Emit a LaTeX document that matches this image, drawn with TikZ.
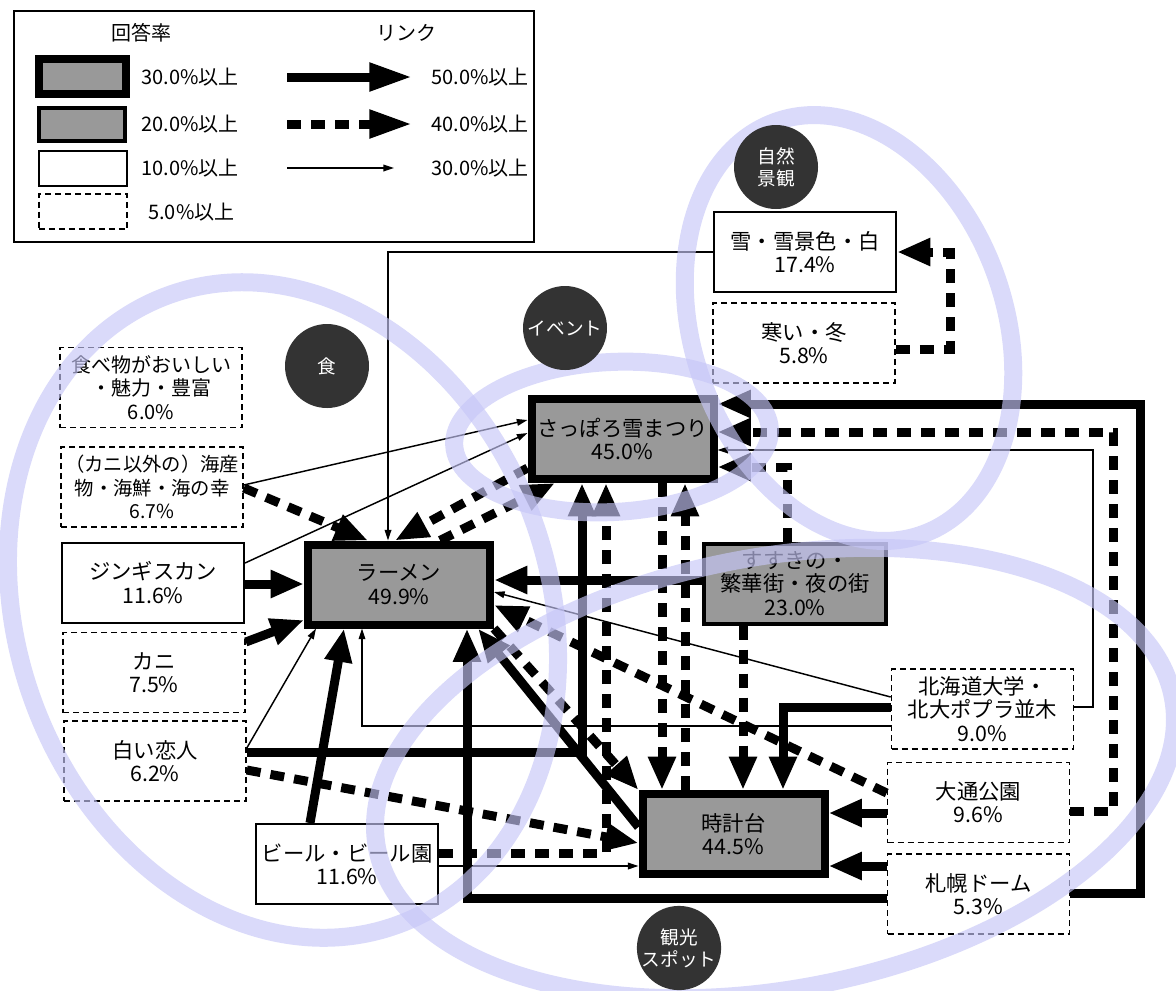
\documentclass[tikz,border=0pt]{standalone}
\usepackage{fontspec}
\setmainfont{Noto Sans CJK JP}
\usetikzlibrary{arrows.meta,calc}
\definecolor{boxgray}{RGB}{153,153,153}
\definecolor{circ}{RGB}{51,51,51}
\definecolor{lav}{RGB}{198,198,247}
\tikzset{
  lbl/.style={font=\fontsize{15}{17}\selectfont, align=center, inner sep=0pt},
  bx/.style={lbl, font=\fontsize{16}{17.5}\selectfont, rectangle, minimum width=136.5pt, minimum height=60pt, draw=black},
  bxA/.style={bx, line width=6pt, fill=boxgray},
  bxB/.style={bx, line width=3pt, fill=boxgray},
  bxC/.style={bx, line width=1.5pt, fill=white},
  bxD/.style={bx, line width=1.2pt, dash pattern=on 4.5pt off 3pt, fill=white},
  strong/.style={line width=6.75pt, -{Triangle[length=25pt,width=19.5pt]}},
  mid/.style={strong, dash pattern=on 10.5pt off 7.5pt},
  weak/.style={line width=1.1pt, -{Triangle[length=8pt,width=5pt]}},
  strongleg/.style={line width=6.75pt, -{Triangle[length=32pt,width=20pt]}},
  midleg/.style={strongleg, dash pattern=on 10.5pt off 7.5pt},
  grp/.style={circle, fill=circ, text=white, minimum size=63pt, inner sep=0pt,
    font=\fontsize{14}{16.5}\selectfont, align=center},
  ring/.style={draw=lav, draw opacity=0.65, line width=13.5pt},
}
\begin{document}
\begin{tikzpicture}[x=0.75pt,y=-0.75pt]
\useasboundingbox (0,0) rectangle (1176,990);

% ---------------- legend ----------------
\node[draw, line width=1.5pt, minimum width=390pt, minimum height=173.5pt, inner sep=0pt] (legend) at (273.5,126.5) {};
\node[lbl] (lgA) at (141,33) {回答率};
\node[lbl] (lgB) at (406,33) {リンク};
\node[bxA, minimum width=65.25pt, minimum height=26.25pt] (lbx1) at (82,76.5) {};
\node[bxB, minimum width=64.5pt, minimum height=24.75pt] (lbx2) at (82,124.5) {};
\node[bxC, minimum width=66pt, minimum height=26.25pt] (lbx3) at (83,168.5) {};
\node[bxD, minimum width=66.3pt, minimum height=26.55pt] (lbx4) at (83,211.5) {};
\node[lbl, anchor=west] (lt1) at (141,77) {30.0\%以上};
\node[lbl, anchor=west] (lt2) at (141,124) {20.0\%以上};
\node[lbl, anchor=west] (lt3) at (141,168) {10.0\%以上};
\node[lbl, anchor=west] (lt4) at (148,212) {5.0\%以上};
\coordinate (la1) at (287,77);  \coordinate (lb1) at (412,77);
\coordinate (la2) at (287,124); \coordinate (lb2) at (412,124);
\coordinate (la3) at (287,168); \coordinate (lb3) at (394,168);
\draw[strongleg] (la1) -- (lb1);
\draw[midleg] (la2) -- (lb2);
\draw[weak] (la3) -- (lb3);
\node[lbl, anchor=west] (lr1) at (431,77) {50.0\%以上};
\node[lbl, anchor=west] (lr2) at (431,124) {40.0\%以上};
\node[lbl, anchor=west] (lr3) at (431,168) {30.0\%以上};

% ---------------- nodes ----------------
\node[bxD, font=\fontsize{15}{17.5}\selectfont] (tabe) at (151,387.5) {食べ物がおいしい\\・魅力・豊富\\6.0\%};
\node[bxD, font=\fontsize{14.5}{17.5}\selectfont] (kaisan) at (152,487) {（カニ以外の）海産\\物・海鮮・海の幸\\6.7\%};
\node[bxC] (jingis) at (153,582.5) {ジンギスカン\\11.6\%};
\node[bxD] (kani) at (154,672.5) {カニ\\7.5\%};
\node[bxD] (shiroi) at (155,761) {白い恋人\\6.2\%};
\node[bxA] (ramen) at (399,584.5) {ラーメン\\49.9\%};
\node[bxA] (sapporo) at (622.5,439) {さっぽろ雪まつり\\45.0\%};
\node[bxA] (tokei) at (733.5,834) {時計台\\44.5\%};
\node[bxB] (susukino) at (795,583.5) {すすきの・\\繁華街・夜の街\\23.0\%};
\node[bxC] (yuki) at (805,252) {雪・雪景色・白\\17.4\%};
\node[bxD] (samui) at (804,343) {寒い・冬\\5.8\%};
\node[bxD] (hokudai) at (982.5,709) {北海道大学・\\北大ポプラ並木\\9.0\%};
\node[bxD] (odori) at (978.5,802.5) {大通公園\\9.6\%};
\node[bxD] (dome) at (978.5,894) {札幌ドーム\\5.3\%};
\node[bxC] (beer) at (347,864) {ビール・ビール園\\11.6\%};

% ---------------- connectors ----------------
\draw[weak] (yuki.west) -| (ramen.north -| 388,0);
\draw[mid] (samui.east |- 0,349) -- (950,349) |- (yuki.east);
\draw[weak] (kaisan.east |- 0,485) -- (sapporo.west |- 0,420);
\draw[mid] (kaisan.east |- 0,488) -- (ramen.north -| 368,0);
\draw[weak] (jingis.east |- 0,563) -- (sapporo.west |- 0,433);
\draw[strong] (jingis.east |- 0,584) -- (ramen.west |- 0,584);
\draw[strong] (kani.east |- 0,642) -- (ramen.west |- 0,620);
\draw[weak] (shiroi.east |- 0,748) -- (ramen.south -| 316,0);
\draw[strong] (shiroi.east |- 0,752) -| (sapporo.south -| 582,0);
\draw[mid] (shiroi.east |- 0,770) -- (tokei.west |- 0,843);
\draw[strong] (beer.north -| 310,0) -- (ramen.south -| 344,0);
\draw[weak] (beer.east |- 0,866) -- (tokei.west |- 0,866);
\draw[mid] (beer.east |- 0,853) -| (sapporo.south -| 606,0);
\draw[strong] (dome.east |- 0,893) -- (1140,893) |- (sapporo.east |- 0,404);
\draw[strong] (dome.west |- 0,898) -| (ramen.south -| 467,0);
\draw[strong] (dome.west |- 0,866) -- (tokei.east |- 0,866);
\draw[strong] (odori.west |- 0,813) -- (tokei.east |- 0,813);
\draw[mid] (odori.east |- 0,811) -- (1113,811) |- (sapporo.east |- 0,432);
\draw[mid] (odori.west |- 0,793) -- (ramen.east |- 0,605);
\draw[mid] (ramen.south east) -- (tokei.north west);
\draw[strong] (tokei.west |- 0,827) -- (ramen.south -| 478,0);
\draw[strong] (susukino.west |- 0,580) -- (ramen.east |- 0,580);
\draw[mid] (susukino.north -| 787,0) |- (sapporo.east |- 0,467);
\draw[mid] (susukino.south -| 743,0) -- (tokei.north -| 743,0);
\draw[strong] (hokudai.west |- 0,707) -| (tokei.north -| 783,0);
\draw[weak] (hokudai.west |- 0,697) -- (ramen.east |- 0,592);
\draw[weak] (hokudai.west |- 0,726) -| (ramen.south -| 362,0);
\draw[weak] (hokudai.east |- 0,707) -- (1093,707) |- (sapporo.east |- 0,450);
\draw[mid] (sapporo.south -| 662,0) -- (tokei.north -| 662,0);
\draw[mid] (tokei.north -| 685,0) -- (sapporo.south -| 685,0);
\draw[mid] (sapporo.west |- 0,468) -- (ramen.north -| 395,0);
\draw[mid] (ramen.north -| 440,0) -- (sapporo.south -| 555,0);

% ---------------- category rings ----------------
\draw[ring, shift={(283,610)}, rotate=20] (0,0) ellipse [x radius=266, y radius=335];
\draw[ring, shift={(612,437)}, rotate=3] (0,0) ellipse [x radius=158, y radius=75];
\draw[ring, shift={(849,328)}, rotate=19.5] (0,0) ellipse [x radius=156, y radius=219];
\draw[ring, shift={(775,773)}, rotate=10.7] (0,0) ellipse [x radius=405, y radius=216];

% ---------------- category labels ----------------
\node[grp] (cfood) at (327,366) {食};
\node[grp] (cevent) at (565,328) {イベント};
\node[grp] (cnature) at (776,167) {自然\\景観};
\node[grp] (csight) at (679,948) {観光\\スポット};
\end{tikzpicture}
\end{document}
